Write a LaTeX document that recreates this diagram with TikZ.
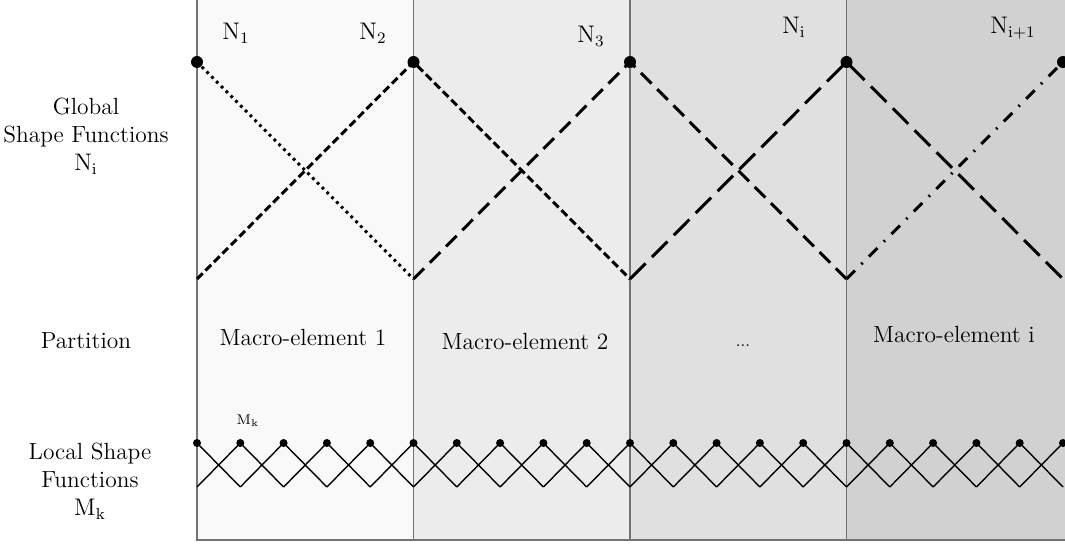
\documentclass[tikz,border=0pt]{standalone}
\begin{document}
\begin{tikzpicture}[x=0.5pt,y=-0.5pt,
  font=\fontsize{11.7}{14}\selectfont,
  border/.style={draw=black!55,line width=0.6pt},
  gdot/.style={circle,fill=black,inner sep=0pt,minimum size=6pt},
  ldot/.style={circle,fill=black,inner sep=0pt,minimum size=4pt},
  gline/.style={line width=1.5pt},
  lline/.style={line width=0.7pt},
  sOne/.style={gline,dash pattern=on 1.4pt off 2pt},
  sTwo/.style={gline,dash pattern=on 4pt off 2pt},
  sThree/.style={gline,dash pattern=on 7.5pt off 4pt},
  sFour/.style={gline,dash pattern=on 11pt off 4.5pt},
  sFive/.style={gline,dash pattern=on 6pt off 4.5pt on 0.9pt off 4.5pt},
  lbl/.style={anchor=base,inner sep=0pt},
  side/.style={align=center,inner sep=0pt}]
\useasboundingbox (0,0) rectangle (1065,545);
% partition columns
\fill[black!2.5]  (197,0) rectangle (413.5,540);
\fill[black!7.5]  (413.5,0) rectangle (630,540);
\fill[black!12] (630,0) rectangle (846.5,540);
\fill[black!18] (846.5,0) rectangle (1065,540);
\draw[border] (197,0) -- (197,540) -- (1065,540);
\draw[border] (413.5,0) -- (413.5,540);
\draw[border] (630,0) -- (630,540);
\draw[border] (846.5,0) -- (846.5,540);
% row labels
\node[side] (gl) at (86,136) {Global\\Shape Functions\\$\mathrm{N_i}$};
\node[lbl] (pl) at (86,348) {Partition};
\node[side] (ll) at (90,481) {Local Shape\\Functions\\$\mathrm{M_k}$};
% partition labels
\node[lbl] (me1) at (303,345) {Macro-element 1};
\node[lbl] (me2) at (525,350) {Macro-element 2};
\node[lbl] (me3) at (743,346) {\fontsize{8}{9}\selectfont ...};
\node[lbl] (me4) at (954,342) {Macro-element i};
% global shape functions
\node[gdot] (n1) at (197,62) {};
\node[gdot] (n2) at (413.5,62) {};
\node[gdot] (n3) at (630,62) {};
\node[gdot] (n4) at (846.5,62) {};
\node[gdot] (n5) at (1063,62) {};
\coordinate (v1) at (197,279);
\coordinate (v2) at (413.5,279);
\coordinate (v3) at (630,279);
\coordinate (v4) at (846.5,279);
\coordinate (v5) at (1063,279);
\node[lbl] (t1) at (236,40) {$\mathrm{N_1}$};
\node[lbl] (t2) at (373,40) {$\mathrm{N_2}$};
\node[lbl] (t3) at (591,43) {$\mathrm{N_3}$};
\node[lbl] (t4) at (794,34) {$\mathrm{N_i}$};
\node[lbl] (t5) at (1013,34) {$\mathrm{N_{i+1}}$};
\draw[sOne] (n1.center) -- (v2);
\draw[sTwo] (v1) -- (n2.center) -- (v3);
\draw[sThree] (v2) -- (n3.center) -- (v4);
\draw[sFour] (v3) -- (n4.center) -- (v5);
\draw[sFive] (v4) -- (n5.center);
% local shape functions
\foreach \k in {0,...,20} {
  \node[ldot] (m\k) at ({197+43.3*\k},443) {};
  \coordinate (b\k) at ({197+43.3*\k},487);
}
\foreach \k [evaluate=\k as \p using int(\k-1)] in {1,...,20} {
  \draw[lline] (m\k.center) -- (b\p);
  \draw[lline] (m\p.center) -- (b\k);
}
\node[inner sep=0pt,font=\fontsize{7.5}{8}\selectfont] (mk) at (248,421) {$\mathrm{M_k}$};
\end{tikzpicture}
\end{document}
